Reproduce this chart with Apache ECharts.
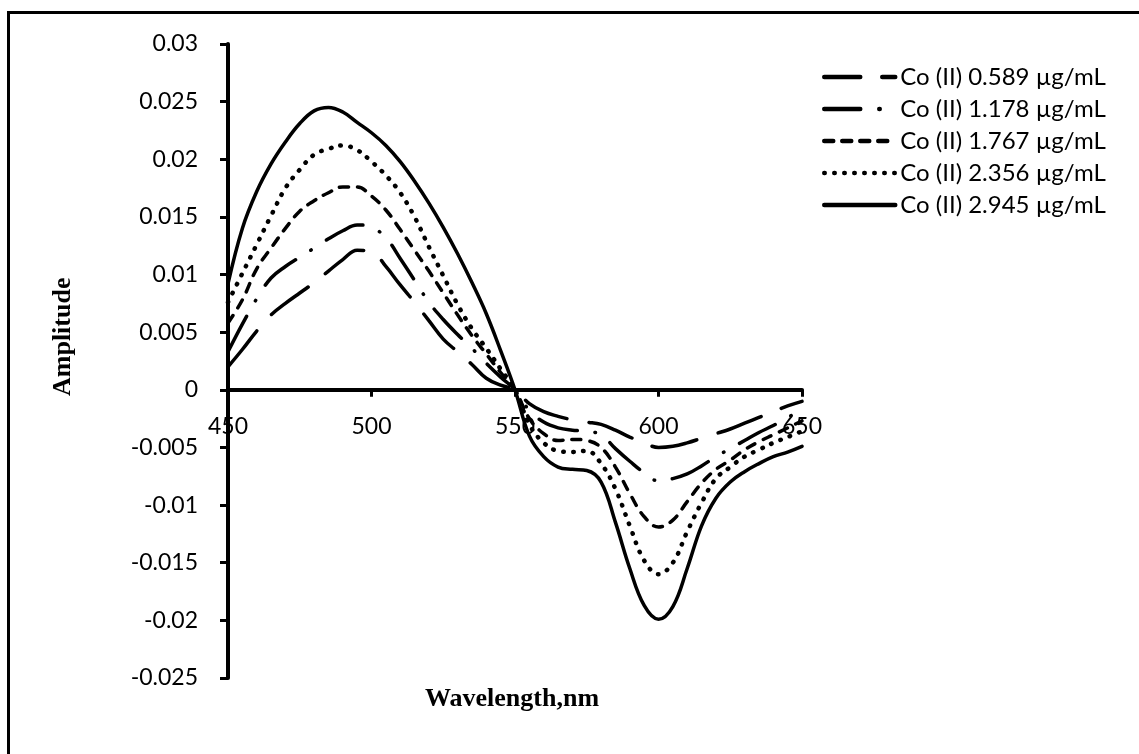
<!DOCTYPE html>
<html>
<head>
<meta charset="utf-8">
<script src="https://cdn.jsdelivr.net/npm/echarts@6/dist/echarts.min.js"></script>
<style>
  html, body { margin: 0; padding: 0; background: #fff; }
  #frame { position: absolute; left: 7px; top: 11px; right: 0; bottom: 0; border-left: 3px solid #000; border-top: 3px solid #000; }
  #main { position: absolute; left: 0; top: 0; width: 1139px; height: 754px; }
</style>
</head>
<body>
<div id="frame"></div>
<div id="main"></div>
<script>
// 波长 (nm)
var wavelengths = [450, 455, 460, 465, 470, 475, 480, 485, 490, 495, 500, 505, 510, 515, 520, 525, 530, 535, 540, 545,
  550, 555, 560, 565, 570, 575, 580, 585, 590, 595, 600, 605, 610, 615, 620, 625, 630, 635, 640, 645, 650];

var names = ['Co (II) 0.589 µg/mL', 'Co (II) 1.178 µg/mL', 'Co (II) 1.767 µg/mL', 'Co (II) 2.356 µg/mL', 'Co (II) 2.945 µg/mL'];

var co0589 = [0.0020, 0.0035, 0.0051, 0.0065, 0.0075, 0.0084, 0.0093, 0.0103, 0.0113, 0.0121, 0.0120, 0.0107, 0.0091, 0.0076, 0.0060, 0.0044, 0.0033, 0.0022, 0.0010, 0.0004,
  0.0000, -0.0012, -0.0019, -0.0023, -0.0026, -0.0028, -0.0030, -0.0035, -0.0041, -0.0046, -0.0050, -0.0049, -0.0046, -0.0042, -0.0038, -0.0034, -0.0029, -0.0024, -0.0019, -0.0014, -0.0010];
var co1178 = [0.0033, 0.0057, 0.0079, 0.0097, 0.0107, 0.0115, 0.0123, 0.0131, 0.0138, 0.0143, 0.0141, 0.0132, 0.0114, 0.0095, 0.0076, 0.0061, 0.0048, 0.0036, 0.0023, 0.0011,
  0.0000, -0.0018, -0.0028, -0.0033, -0.0035, -0.0036, -0.0039, -0.0051, -0.0062, -0.0072, -0.0079, -0.0077, -0.0073, -0.0066, -0.0058, -0.0051, -0.0044, -0.0037, -0.0031, -0.0024, -0.0018];
var co1767 = [0.0058, 0.0078, 0.0105, 0.0123, 0.0140, 0.0155, 0.0164, 0.0171, 0.0176, 0.0176, 0.0168, 0.0156, 0.0139, 0.0121, 0.0103, 0.0084, 0.0065, 0.0047, 0.0031, 0.0015,
  0.0000, -0.0025, -0.0038, -0.0044, -0.0043, -0.0044, -0.0050, -0.0067, -0.0090, -0.0110, -0.0119, -0.0113, -0.0097, -0.0081, -0.0069, -0.0061, -0.0052, -0.0045, -0.0039, -0.0033, -0.0027];
var co2356 = [0.0076, 0.0101, 0.0126, 0.0151, 0.0175, 0.0191, 0.0204, 0.0209, 0.0212, 0.0208, 0.0198, 0.0186, 0.0171, 0.0150, 0.0124, 0.0099, 0.0074, 0.0053, 0.0036, 0.0018,
  0.0000, -0.0030, -0.0046, -0.0053, -0.0054, -0.0053, -0.0064, -0.0086, -0.0118, -0.0148, -0.0160, -0.0150, -0.0123, -0.0098, -0.0077, -0.0067, -0.0058, -0.0052, -0.0046, -0.0041, -0.0036];
var co2945 = [0.0092, 0.0140, 0.0172, 0.0196, 0.0215, 0.0231, 0.0242, 0.0245, 0.0241, 0.0232, 0.0223, 0.0212, 0.0198, 0.0181, 0.0162, 0.0141, 0.0118, 0.0093, 0.0066, 0.0034,
  0.0000, -0.0040, -0.0058, -0.0067, -0.0069, -0.0070, -0.0080, -0.0115, -0.0155, -0.0187, -0.0199, -0.0188, -0.0155, -0.0118, -0.0094, -0.0080, -0.0071, -0.0064, -0.0058, -0.0054, -0.0049];

var xTicks = [450, 500, 550, 600, 650];
var yTicks = [-0.025, -0.02, -0.015, -0.01, -0.005, 0, 0.005, 0.01, 0.015, 0.02, 0.025, 0.03];

var values = [co0589, co1178, co1767, co2356, co2945];
// 线型：长划线、长划点、短划线、圆点、实线
var dashes = [[46, 22], [40, 18, 0.5, 18], [9, 9], [0.5, 9.5], 'solid'];
var legendDashes = [[36, 22], [36, 19, 0.5, 19], [9, 9], [0.5, 9.5], 'solid'];
var widths = [3.5, 3.5, 3.5, 4.5, 3.5];

function pairs(arr) {
  return wavelengths.map(function (w, i) { return [w, arr[i]]; });
}

var labelFont = 'Lato, "Open Sans", sans-serif';

var chart = echarts.init(document.getElementById('main'), null, { renderer: 'canvas' });

var seriesList = [];
var legendData = [];
for (var i = 0; i < values.length; i++) {
  seriesList.push({
    name: names[i],
    type: 'line',
    data: pairs(values[i]),
    symbol: 'none',
    smooth: 0.4,
    lineStyle: { color: '#000', width: widths[i], type: dashes[i], cap: 'round' },
    itemStyle: { color: '#000' }
  });
  legendData.push({
    name: names[i],
    itemStyle: { opacity: 0, borderWidth: 0 },
    lineStyle: { color: '#000', width: 4.5, type: legendDashes[i], cap: 'round' }
  });
}

// 0 刻度所在位置 (grid 高 634px)
var zeroOffset = -(634 * 0.025 / 0.055);

chart.setOption({
  backgroundColor: 'transparent',
  animation: false,
  grid: { left: 228, right: 337, top: 44, bottom: 76 },
  legend: {
    orient: 'vertical',
    left: 822,
    top: 63,
    padding: 0,
    itemWidth: 71,
    itemHeight: 14,
    itemGap: 4,
    selectedMode: false,
    textStyle: { fontFamily: labelFont, fontSize: 24, color: '#000', lineHeight: 28 },
    data: legendData
  },
  xAxis: {
    type: 'value',
    min: 450,
    max: 650,
    interval: 50,
    offset: zeroOffset,
    axisLine: { onZero: false, lineStyle: { color: '#000', width: 4 } },
    axisTick: { show: true, inside: false, length: 7, lineStyle: { color: '#000', width: 3 } },
    axisLabel: {
      margin: 25,
      fontFamily: labelFont, fontSize: 23, color: '#000',
      customValues: xTicks
    },
    splitLine: { show: false }
  },
  yAxis: {
    type: 'value',
    min: -0.025,
    max: 0.03,
    interval: 0.005,
    axisLine: { show: true, lineStyle: { color: '#000', width: 4 } },
    axisTick: { show: true, inside: false, length: 8, lineStyle: { color: '#000', width: 3 } },
    axisLabel: {
      margin: 30,
      fontFamily: labelFont, fontSize: 23, color: '#000',
      customValues: yTicks,
      formatter: function (v) { return String(parseFloat(v.toFixed(3))); }
    },
    splitLine: { show: false }
  },
  graphic: [
    {
      type: 'text',
      left: 425, top: 686,
      style: { text: 'Wavelength,nm', font: 'bold 26px "Liberation Serif", "Times New Roman", serif', fill: '#000' }
    },
    {
      type: 'text',
      x: 50, y: 396,
      rotation: Math.PI / 2,
      style: { text: 'Amplitude', font: 'bold 26px "Liberation Serif", "Times New Roman", serif', fill: '#000' }
    }
  ],
  series: seriesList
});
</script>
</body>
</html>
